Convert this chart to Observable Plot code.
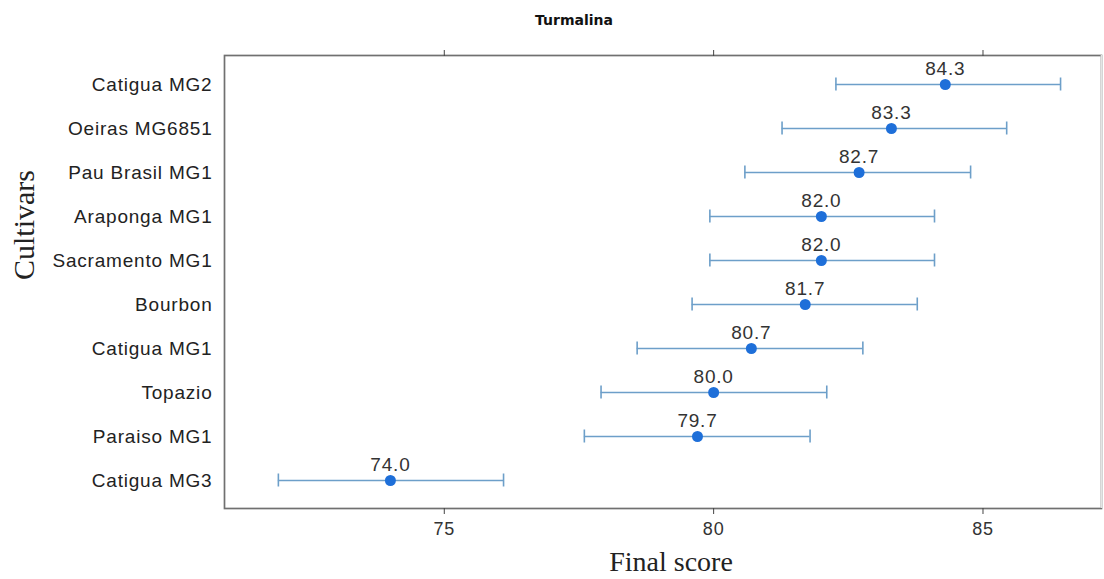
<!DOCTYPE html>
<html>
<head>
<meta charset="utf-8">
<script src="https://cdn.jsdelivr.net/npm/d3@7"></script>
<script src="https://cdn.jsdelivr.net/npm/@observablehq/plot@0.6"></script>
<style>
  html, body { margin: 0; padding: 0; background: #fff; }
  .wide text { letter-spacing: 0.8px; }
</style>
</head>
<body>
<div id="chart"></div>
<script>
const title = "Turmalina";
const cultivars = ["Catigua MG2", "Oeiras MG6851", "Pau Brasil MG1", "Araponga MG1", "Sacramento MG1", "Bourbon", "Catigua MG1", "Topazio", "Paraiso MG1", "Catigua MG3"];
const scores = [84.3, 83.3, 82.7, 82.0, 82.0, 81.7, 80.7, 80.0, 79.7, 74.0];
const lower = [82.27, 81.27, 80.58, 79.93, 79.93, 79.6, 78.58, 77.91, 77.6, 71.92];
const upper = [86.44, 85.44, 84.77, 84.1, 84.1, 83.78, 82.77, 82.1, 81.79, 76.1];
const xTicks = [75, 80, 85];
const xDomain = [70.92, 87.2];

const data = cultivars.map((c, i) => ({cultivar: c, score: scores[i], lo: lower[i], hi: upper[i], label: scores[i].toFixed(1)}));

const lineColor = "#6d9fc9";
const dotColor = "#1e6fd9";
const sans = "Liberation Sans, Arial, sans-serif";
const serif = "Liberation Serif, Times New Roman, serif";

const chart = Plot.plot({
  width: 1104,
  height: 579,
  marginLeft: 224,
  marginRight: 3,
  marginTop: 55,
  marginBottom: 71,
  style: {fontFamily: sans, background: "#fff", color: "#333"},
  x: {domain: xDomain},
  y: {type: "band", domain: cultivars, range: [60.3, 504], padding: 0},
  marks: [
    Plot.frame({stroke: "#707070", strokeWidth: 1.7}),
    Plot.ruleX([xDomain[1]], {stroke: "#e4e4e4", strokeWidth: 1.7}),
    Plot.axisX({anchor: "bottom", ticks: xTicks, tickSize: 6, tickPadding: 8, fontSize: 18, label: null, stroke: "#444", fill: "#333", className: "wide"}),
    Plot.axisX({anchor: "top", ticks: xTicks, tickSize: 6, tickFormat: () => "", label: null, stroke: "#444"}),
    Plot.axisY({anchor: "left", tickSize: 0, tickPadding: 12, fontSize: 19, label: null, fill: "#222", className: "wide"}),
    Plot.ruleY(data, {y: "cultivar", x1: "lo", x2: "hi", stroke: lineColor, strokeWidth: 1.6}),
    Plot.tickX(data, {x: "lo", y: "cultivar", stroke: lineColor, strokeWidth: 1.6, insetTop: 15.5, insetBottom: 15.5}),
    Plot.tickX(data, {x: "hi", y: "cultivar", stroke: lineColor, strokeWidth: 1.6, insetTop: 15.5, insetBottom: 15.5}),
    Plot.dot(data, {x: "score", y: "cultivar", r: 5.5, fill: dotColor, stroke: "none"}),
    Plot.text(data, {x: "score", y: "cultivar", text: "label", dy: -16, fontSize: 19, fill: "#333", className: "wide"}),
    Plot.text([title], {frameAnchor: "top", dx: -89, dy: -40, fontSize: 14, fontWeight: "bold", fontFamily: "DejaVu Sans, sans-serif", fill: "#111"}),
    Plot.text(["Final score"], {frameAnchor: "bottom", dx: 8, dy: 62, fontSize: 28, fontFamily: serif, fill: "#222"}),
    Plot.text(["Cultivars"], {frameAnchor: "left", dx: -200, dy: -2, rotate: -90, fontSize: 30, fontFamily: serif, fill: "#222"})
  ]
});
document.getElementById("chart").appendChild(chart);
</script>
</body>
</html>
